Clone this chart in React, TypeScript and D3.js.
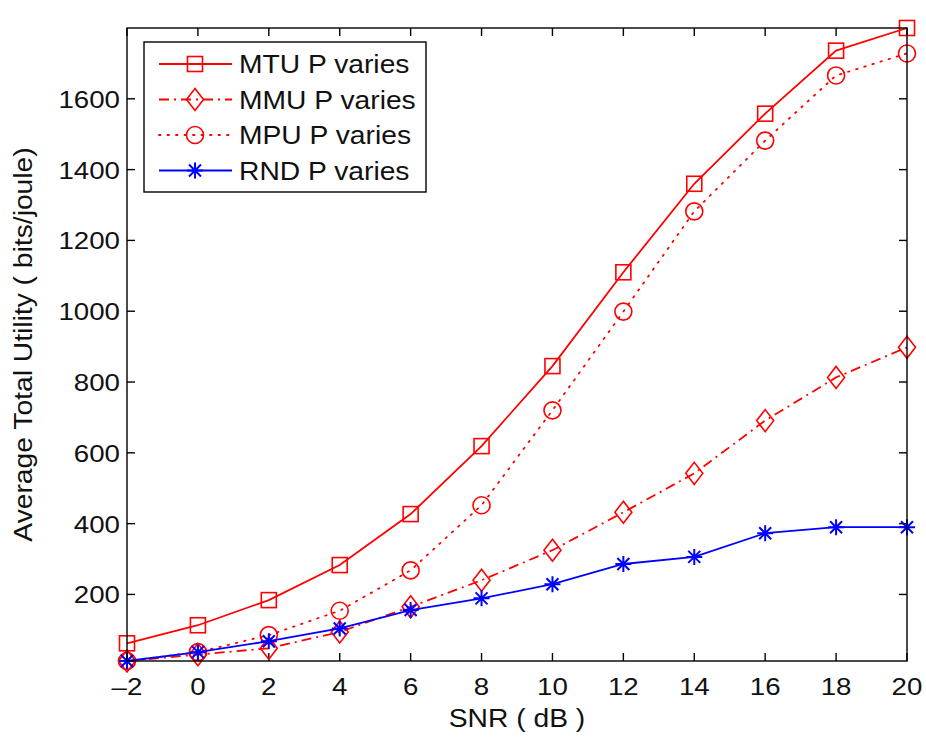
import React from 'react';
import * as d3 from 'd3';

const snr = [-2, 0, 2, 4, 6, 8, 10, 12, 14, 16, 18, 20];
const mtu = [62, 113, 184, 283, 427, 619, 845, 1110, 1360, 1558, 1736, 1800];
const mmu = [12, 30, 48, 94, 165, 240, 325, 432, 542, 691, 813, 898];
const mpu = [12, 37, 85, 154, 268, 452, 720, 999, 1282, 1482, 1666, 1728];
const rnd = [12, 37, 68, 104, 156, 189, 229, 286, 306, 373, 390, 390];
const xTickVals = [-2, 0, 2, 4, 6, 8, 10, 12, 14, 16, 18, 20];
const yTickVals = [200, 400, 600, 800, 1000, 1200, 1400, 1600];

const series = [
  { name: 'MTU P varies', values: mtu, color: '#ff0000', dash: null, marker: 'square' },
  { name: 'MMU P varies', values: mmu, color: '#ff0000', dash: '10,5,2,5', marker: 'diamond' },
  { name: 'MPU P varies', values: mpu, color: '#ff0000', dash: '1.5,7', marker: 'circle' },
  { name: 'RND P varies', values: rnd, color: '#0000ff', dash: null, marker: 'star' },
];

const Marker = ({ type, x, y, color }: { type: string; x: number; y: number; color: string }) => {
  const p = { fill: 'none', stroke: color, strokeWidth: 1.6 };
  if (type === 'square') return <rect x={x - 7.5} y={y - 7.5} width={15} height={15} {...p} />;
  if (type === 'circle') return <circle cx={x} cy={y} r={8.5} {...p} />;
  if (type === 'diamond')
    return <path d={`M${x},${y - 11}L${x + 8.5},${y}L${x},${y + 11}L${x - 8.5},${y}Z`} {...p} />;
  const s = 8, d = 6;
  return (
    <path
      d={`M${x - s},${y}L${x + s},${y}M${x},${y - s}L${x},${y + s}M${x - d},${y - d}L${x + d},${y + d}M${x - d},${y + d}L${x + d},${y - d}`}
      {...p}
      strokeWidth={2}
    />
  );
};

// text is slightly stretched sideways in the original figure
const SText = ({ x, y, anchor = 'start', rot = 0, size = 25, children }: any) => (
  <text transform={`translate(${x},${y}) rotate(${rot}) scale(1.13,1)`} textAnchor={anchor} fontSize={size} fill="#111">
    {children}
  </text>
);

export default function App() {
  const width = 926, height = 738;
  const m = { l: 127, r: 19, t: 28, b: 77 };
  const x = d3.scaleLinear().domain([-2, 20]).range([m.l, width - m.r]);
  const y = d3.scaleLinear().domain([12, 1800]).range([height - m.b, m.t]);
  const line = d3.line<number>().x((_, i) => x(snr[i])).y(d => y(d));
  const font = 'Liberation Sans, Arial, Helvetica, sans-serif';
  const x0 = m.l, x1 = width - m.r, y0 = height - m.b, y1 = m.t;
  const tl = 8;

  return (
    <svg width={width} height={height} style={{ position: 'absolute', left: 0, top: 0, background: '#fff' }} fontFamily={font}>
      <rect width={width} height={height} fill="#fff" />
      {/* ticks */}
      <g stroke="#000" strokeWidth={1.4}>
        {xTickVals.map(v => (
          <g key={'x' + v}>
            <line x1={x(v)} x2={x(v)} y1={y0} y2={y0 - tl} />
            <line x1={x(v)} x2={x(v)} y1={y1} y2={y1 + tl} />
          </g>
        ))}
        {yTickVals.map(v => (
          <g key={'y' + v}>
            <line x1={x0} x2={x0 + tl} y1={y(v)} y2={y(v)} />
            <line x1={x1} x2={x1 - tl} y1={y(v)} y2={y(v)} />
          </g>
        ))}
      </g>
      {xTickVals.map(v => (
        <SText key={v} x={x(v)} y={y0 + 34} anchor="middle" size={24.5}>{v < 0 ? '\u2013' + Math.abs(v) : v}</SText>
      ))}
      {yTickVals.map(v => (
        <SText key={v} x={x0 - 7} y={y(v) + 9} anchor="end" size={24.5}>{v}</SText>
      ))}
      {/* series */}
      {series.map(s => (
        <g key={s.name}>
          <path d={line(s.values) || ''} fill="none" stroke={s.color} strokeWidth={1.8}
            strokeDasharray={s.dash || undefined} strokeLinecap={s.dash === '1.5,7' ? 'round' : 'butt'} />
          {s.values.map((v, i) => (
            <Marker key={i} type={s.marker} x={x(snr[i])} y={y(v)} color={s.color} />
          ))}
        </g>
      ))}
      <rect x={x0} y={y1} width={x1 - x0} height={y0 - y1} fill="none" stroke="#000" strokeWidth={1.4} />
      {/* legend */}
      <g>
        <rect x={144} y={42} width={282} height={150} fill="#fff" stroke="#000" strokeWidth={1.4} />
        {series.map((s, i) => {
          const ly = 64 + i * 35.5;
          return (
            <g key={s.name}>
              <line x1={159} x2={232} y1={ly} y2={ly} stroke={s.color} strokeWidth={1.8}
                strokeDasharray={s.dash || undefined} strokeLinecap={s.dash === '1.5,7' ? 'round' : 'butt'} />
              <Marker type={s.marker} x={195} y={ly} color={s.color} />
              <SText x={239} y={ly + 9}>{s.name}</SText>
            </g>
          );
        })}
      </g>
      {/* axis labels */}
      <SText x={(x0 + x1) / 2} y={727} anchor="middle">SNR ( dB )</SText>
      <SText x={32} y={(y0 + y1) / 2} anchor="middle" rot={-90}>Average Total Utility ( bits/joule)</SText>
    </svg>
  );
}
